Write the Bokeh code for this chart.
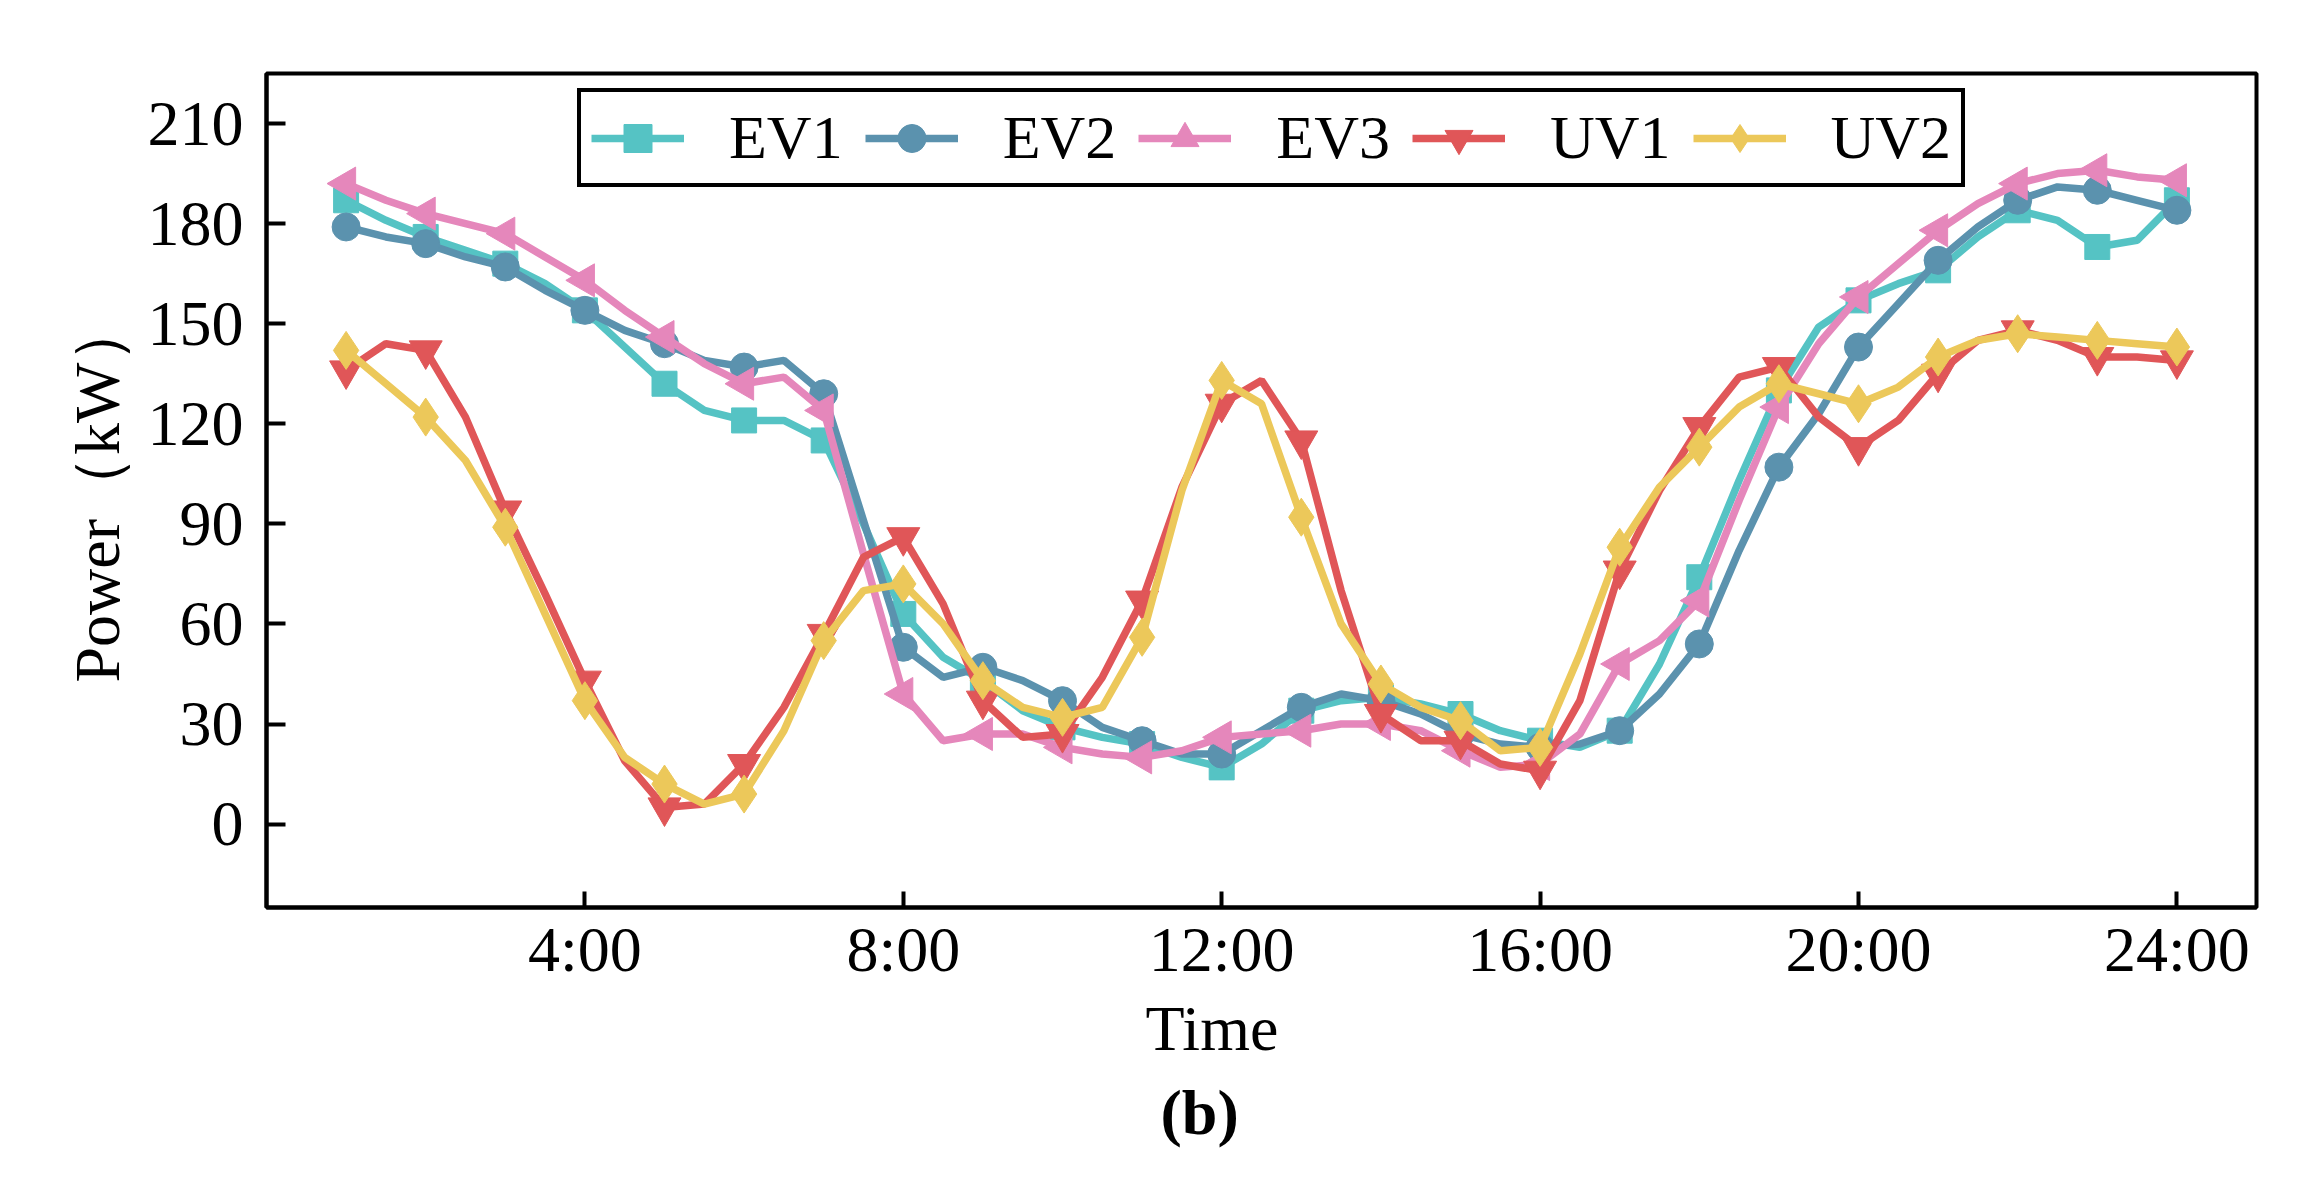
from bokeh.plotting import figure
from bokeh.models import FixedTicker, Legend, LegendItem, Title
from bokeh.embed import file_html
from bokeh.resources import INLINE
import math

# half-hour samples from 1:00 to 24:00, markers on the full hours
times = [i / 2 for i in range(2, 49)]

ev1 = [187, 181, 176, 172, 168, 162, 154, 143, 132, 124, 121, 121, 115, 90, 63, 50,
       43, 34, 29, 26, 24, 20, 17, 24, 34, 37, 38, 36, 33, 28, 25, 23, 28, 48, 74,
       103, 130, 149, 157, 162, 166, 176, 184, 181, 173, 175, 187]
ev2 = [179, 176, 174, 170, 167, 160, 154, 148, 144, 139, 137, 139, 129, 91, 53, 44,
       47, 43, 37, 29, 25, 21, 21, 28, 35, 39, 37, 33, 27, 24, 23, 24, 28, 39, 54,
       82, 107, 123, 143, 156, 169, 179, 187, 191, 190, 187, 184]
ev3 = [192, 187, 183, 180, 177, 170, 163, 154, 146, 138, 132, 134, 124, 81, 39, 25,
       27, 27, 23, 21, 20, 22, 26, 27, 28, 30, 30, 28, 22, 17, 18, 27, 48, 55, 67,
       97, 125, 144, 158, 168, 178, 186, 192, 195, 196, 194, 193]
uv1 = [136, 144, 142, 122, 94, 69, 43, 19, 5, 6, 18, 35, 57, 80, 86, 66,
       37, 26, 27, 44, 67, 101, 126, 133, 115, 70, 33, 25, 25, 18, 16, 37, 76, 100, 119,
       134, 137, 122, 113, 121, 135, 145, 148, 145, 140, 140, 139]
uv2 = [142, 132, 122, 109, 89, 63, 37, 20, 12, 6, 9, 28, 55, 70, 72, 60,
       43, 35, 32, 35, 56, 100, 133, 126, 92, 60, 42, 35, 31, 22, 23, 51, 83, 101, 113,
       125, 132, 129, 126, 131, 140, 145, 147, 146, 145, 144, 143]

names = ["EV1", "EV2", "EV3", "UV1", "UV2"]
colors = ["#55C3C4", "#5B92AE", "#E587BB", "#E05658", "#ECC85A"]
markers = ["square", "circle", "triangle", "inverted_triangle", "diamond"]
sizes = [25, 28, 33, 33, 38]
angles = [0, 0, math.pi / 2, 0, 0]
x_ticks = [4, 8, 12, 16, 20, 24]
y_ticks = [0, 30, 60, 90, 120, 150, 180, 210]

FONT = "Liberation Serif"

p = figure(width=2286, height=1174, x_range=(0, 25), y_range=(-25, 225),
           output_backend="svg", toolbar_location=None,
           min_border_left=266, min_border_top=73, min_border_right=30, min_border_bottom=267)
p.grid.visible = False
p.outline_line_color = "black"
p.outline_line_alpha = 1
p.outline_line_width = 4

items = []
for name, ys, c, m, s, a in zip(names, [ev1, ev2, ev3, uv1, uv2], colors, markers, sizes, angles):
    ln = p.line(times, ys, line_color=c, line_width=7.5)
    sc = p.scatter(times[::2], ys[::2], marker=m, size=s, angle=a,
                   fill_color=c, line_color=c)
    items.append(LegendItem(label=name, renderers=[ln, sc]))

legend = Legend(items=items, orientation="horizontal", location=(311, 720),
                border_line_color="black", border_line_alpha=1, border_line_width=4,
                label_text_font=FONT, label_text_font_size="62px", label_text_color="black",
                glyph_width=93, glyph_height=70, label_standoff=45,
                spacing=22, padding=10, margin=0)
p.add_layout(legend)

for ax in (p.xaxis, p.yaxis):
    ax.axis_line_width = 4
    ax.major_tick_line_width = 4
    ax.major_tick_out = 0
    ax.minor_tick_line_color = None
    ax.major_label_text_font = FONT
    ax.major_label_text_font_size = "64px"
    ax.major_label_text_color = "black"
    ax.axis_label_text_font = FONT
    ax.axis_label_text_font_size = "64px"
    ax.axis_label_text_font_style = "normal"
    ax.axis_label_text_color = "black"

p.xaxis.ticker = FixedTicker(ticks=x_ticks)
p.xaxis.major_label_overrides = {t: f"{t}:00" for t in x_ticks}
p.xaxis.major_tick_in = 16
p.xaxis.major_label_standoff = 6
p.yaxis.ticker = FixedTicker(ticks=y_ticks)
p.yaxis.major_tick_in = 19
p.yaxis.major_label_standoff = 23
p.yaxis.axis_label = "Power（kW）"
p.yaxis.axis_label_standoff = 12

p.add_layout(Title(text="Time", align="left", offset=879, standoff=7,
                   text_font=FONT, text_font_size="64px", text_font_style="normal",
                   text_color="black"), "below")
p.add_layout(Title(text="(b)", align="left", offset=894, standoff=14,
                   text_font=FONT, text_font_size="64px", text_font_style="bold",
                   text_color="black"), "below")

open("out.html", "w").write(file_html(p, INLINE))
